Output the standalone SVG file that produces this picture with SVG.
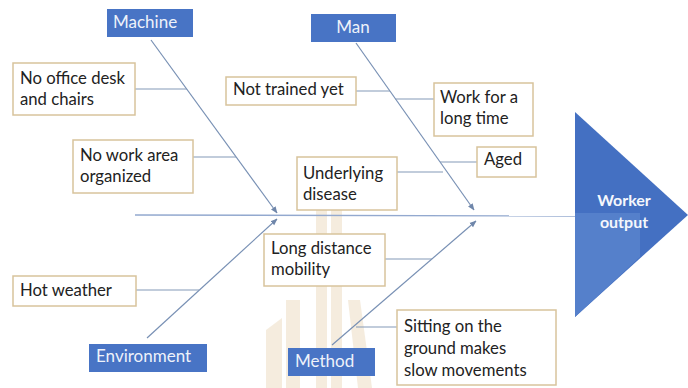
<svg xmlns="http://www.w3.org/2000/svg" width="688" height="388" viewBox="0 0 688 388">
  <defs>
    <marker id="arrow" viewBox="0 0 10 10" refX="9" refY="5" markerWidth="7" markerHeight="7" markerUnits="userSpaceOnUse" orient="auto">
      <path d="M0,1 L10,5 L0,9 z" fill="#6f86aa"/>
    </marker>
    <style>
      .cause rect { fill: #ffffff; stroke: #d8c39c; stroke-width: 1.5; }
      .cause text { font-family: Lato, "Open Sans", "Liberation Sans", sans-serif; font-size: 16.7px; fill: #222222; }
      .cat rect { fill: #4874c5; }
      .cat text { font-family: Lato, "Open Sans", "Liberation Sans", sans-serif; font-size: 17px; fill: #eef2fa; }
      .bone { stroke: #7890b4; stroke-width: 1.2; fill: none; }
      .stub { stroke: #8499b8; stroke-width: 1.2; fill: none; }
      .spine { stroke: #93a9cf; stroke-width: 1.4; fill: none; }
      .mark { fill: #d8b47c; opacity: 0.25; }
    </style>
  </defs>

  <rect width="688" height="388" fill="#ffffff"/>

  <!-- faint emblem behind the lower middle -->
  <g id="emblem">
    <rect class="mark" x="316" y="208" width="11" height="180"/>
    <rect class="mark" x="331" y="208" width="11" height="180"/>
    <polygon class="mark" points="286,300 300,300 300,388 286,388"/>
    <polygon class="mark" points="266,330 282,318 282,388 266,388"/>
    <polygon class="mark" points="348,300 360,300 372,388 358,388"/>
  </g>

  <!-- result head -->
  <g id="effect">
    <polygon points="575,112 688,215 575,317" fill="#4470c2"/>
    <polygon points="575,213 640,213 640,257 575,317" fill="#5580cb"/>
    <text x="624" y="206" text-anchor="middle" font-family="Lato, 'Open Sans', 'Liberation Sans', sans-serif" font-size="16px" font-weight="bold" fill="#f4f7fc">Worker</text>
    <text x="624" y="228" text-anchor="middle" font-family="Lato, 'Open Sans', 'Liberation Sans', sans-serif" font-size="16px" font-weight="bold" fill="#f4f7fc">output</text>
  </g>

  <!-- spine, category bones and cause stubs -->
  <g id="connectors">
    <line class="spine" x1="135" y1="215" x2="575" y2="216"/>
    <line class="bone" x1="151" y1="40" x2="277" y2="213" marker-end="url(#arrow)"/>
    <line class="bone" x1="356" y1="43" x2="474" y2="210" marker-end="url(#arrow)"/>
    <line class="bone" x1="147" y1="338" x2="277" y2="219" marker-end="url(#arrow)"/>
    <line class="bone" x1="332" y1="345" x2="476" y2="221" marker-end="url(#arrow)"/>

    <line class="stub" x1="135" y1="89" x2="187" y2="89"/>
    <line class="stub" x1="193" y1="157" x2="236" y2="157"/>
    <line class="stub" x1="356" y1="91" x2="390" y2="91"/>
    <line class="stub" x1="395" y1="99" x2="434" y2="99"/>
    <line class="stub" x1="440" y1="162" x2="477" y2="162"/>
    <line class="stub" x1="397" y1="172" x2="443" y2="172"/>
    <line class="stub" x1="136" y1="290" x2="199" y2="290"/>
    <line class="stub" x1="385" y1="259" x2="432" y2="259"/>
    <line class="stub" x1="356" y1="327" x2="397" y2="327"/>
  </g>

  <!-- category labels -->
  <g id="machine" class="cat">
    <rect x="107" y="9" width="86" height="28"/>
    <text x="113" y="28">Machine</text>
  </g>
  <g id="man" class="cat">
    <rect x="311" y="14" width="85" height="28"/>
    <text x="353" y="33" text-anchor="middle">Man</text>
  </g>
  <g id="environment" class="cat">
    <rect x="89" y="344" width="118" height="28"/>
    <text x="96" y="362">Environment</text>
  </g>
  <g id="method" class="cat">
    <rect x="288" y="348" width="87" height="28"/>
    <text x="295" y="367">Method</text>
  </g>

  <!-- causes -->
  <g id="no-office-desk" class="cause">
    <rect x="13" y="63" width="122" height="52"/>
    <text x="20" y="84">No office desk</text>
    <text x="20" y="105">and chairs</text>
  </g>
  <g id="no-work-area" class="cause">
    <rect x="73" y="140" width="120" height="53"/>
    <text x="80" y="161">No work area</text>
    <text x="80" y="182">organized</text>
  </g>
  <g id="not-trained" class="cause">
    <rect x="226" y="77" width="130" height="28"/>
    <text x="233" y="95">Not trained yet</text>
  </g>
  <g id="long-time" class="cause">
    <rect x="434" y="83" width="99" height="53"/>
    <text x="440" y="103">Work for a</text>
    <text x="440" y="124">long time</text>
  </g>
  <g id="aged" class="cause">
    <rect x="477" y="147" width="59" height="30"/>
    <text x="484" y="165">Aged</text>
  </g>
  <g id="underlying-disease" class="cause">
    <rect x="297" y="157" width="100" height="53"/>
    <text x="303" y="179">Underlying</text>
    <text x="303" y="200">disease</text>
  </g>
  <g id="hot-weather" class="cause">
    <rect x="13" y="276" width="123" height="30"/>
    <text x="20" y="296">Hot weather</text>
  </g>
  <g id="long-distance" class="cause">
    <rect x="264" y="234" width="121" height="52"/>
    <text x="271" y="254">Long distance</text>
    <text x="271" y="275">mobility</text>
  </g>
  <g id="sitting" class="cause">
    <rect x="397" y="310" width="159" height="75"/>
    <text x="404" y="332">Sitting on the</text>
    <text x="404" y="354">ground makes</text>
    <text x="404" y="376">slow movements</text>
  </g>
</svg>
